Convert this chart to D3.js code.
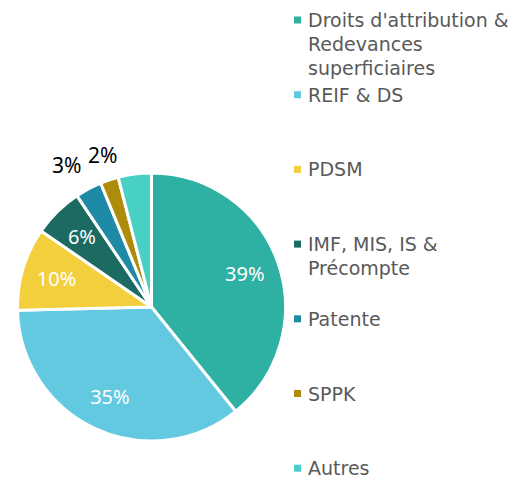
<!DOCTYPE html>
<html>
<head>
<meta charset="utf-8">
<script src="https://cdn.jsdelivr.net/npm/d3@7"></script>
<style>
  body { margin: 0; background: #fff; }
</style>
</head>
<body>
<svg id="chart" width="521" height="480"></svg>
<script>
// parts (percent), top going clockwise
const categories = ["Droits d'attribution & Redevances superficiaires", "REIF & DS", "PDSM", "IMF, MIS, IS & Précompte", "Patente", "SPPK", "Autres"]
const values = [39.2, 35.4, 10.0, 6.0, 3.2, 2.2, 4.0]
const legendLines = [
    ["Droits d'attribution &", "Redevances", "superficiaires"],
    ["REIF & DS"],
    ["PDSM"],
    ["IMF, MIS, IS &", "Précompte"],
    ["Patente"],
    ["SPPK"],
    ["Autres"]
]
const colors = ["#2eb0a3", "#63c9e1", "#f3cf3e", "#1c6b62", "#1e8aa5", "#ad8c0c", "#48d0c5"]
const showLabel = [true, true, true, true, true, true, false]

const svg = d3.select("#chart")
const cx = 151.5, cy = 307, R = 134

const pie = d3.pie().sort(null).value(d => d)
const arcs = pie(values)
const arc = d3.arc().innerRadius(0).outerRadius(R)
const inArc = d3.arc().innerRadius(99).outerRadius(99)
const outArc = d3.arc().innerRadius(160).outerRadius(160)

const g = svg.append("g").attr("transform", `translate(${cx},${cy})`)

g.selectAll("path")
    .data(arcs)
    .enter()
    .append("path")
    .attr("d", arc)
    .attr("fill", (d, i) => colors[i])
    .attr("stroke", "#fff")
    .attr("stroke-width", 3)
    .attr("stroke-linejoin", "round")

// label positions, outside ones get spread apart so they don't touch
const labelData = arcs.filter((d, i) => showLabel[i]).map(d => {
    const small = d.data < 5
    const p = (small ? outArc : inArc).centroid(d)
    return { d: d, small: small, x: p[0] - (small ? 4 : 0), y: p[1] }
})
const outside = labelData.filter(l => l.small)
for (let k = 1; k < outside.length; k++) {
    const a = outside[k - 1], b = outside[k]
    const gap = Math.abs(b.x - a.x)
    if (gap < 36) {
        const s = (36 - gap) / 2
        if (a.x < b.x) { a.x -= s; b.x += s } else { a.x += s; b.x -= s }
    }
}

g.selectAll("text.lbl")
    .data(labelData)
    .enter()
    .append("text")
    .attr("class", "lbl")
    .attr("transform", l => `translate(${l.x},${l.y})`)
    .attr("text-anchor", "middle")
    .attr("dy", "0.36em")
    .attr("font-family", "'Noto Sans', 'Open Sans', sans-serif")
    .attr("font-size", l => l.small ? 21 : 20)
    .attr("fill", l => l.small ? "#000" : "#fff")
    .text(l => Math.round(l.d.data) + "%")

// legend
const legend = svg.append("g")
const rowStep = 74.7
const entries = legend.selectAll("g.entry")
    .data(categories)
    .enter()
    .append("g")
    .attr("class", "entry")
    .attr("transform", (d, i) => `translate(0,${27 + rowStep * i})`)

entries.append("rect")
    .attr("x", 294)
    .attr("y", -10.5)
    .attr("width", 7)
    .attr("height", 7)
    .attr("fill", (d, i) => colors[i])

entries.each(function (d, i) {
    const t = d3.select(this).append("text")
        .attr("font-family", "'DejaVu Sans', sans-serif")
        .attr("font-size", 19)
        .attr("fill", "#595959")
    legendLines[i].forEach((line, j) => {
        t.append("tspan").attr("x", 308).attr("y", j * 24).text(line)
    })
})
</script>
</body>
</html>
